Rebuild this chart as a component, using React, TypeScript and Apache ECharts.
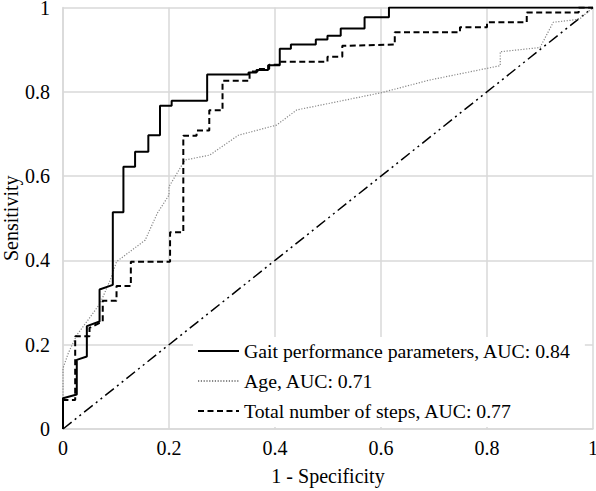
import React, { useEffect, useRef } from "react";
import * as echarts from "echarts";

const FONT = "Liberation Serif";
const FS = 20;

const xTickLabels = ["0", "0.2", "0.4", "0.6", "0.8", "1"];
const yTickLabels = ["0", "0.2", "0.4", "0.6", "0.8", "1"];

const seriesNames = [
  "Gait performance parameters, AUC: 0.84",
  "Age, AUC: 0.71",
  "Total number of steps, AUC: 0.77",
];

// Gait performance parameters (1 - specificity, sensitivity)
const gaitX = [0, 0, 0.026, 0.026, 0.045, 0.045, 0.069, 0.069, 0.094, 0.094, 0.114, 0.114, 0.136, 0.136, 0.161, 0.161, 0.183, 0.183, 0.205, 0.205, 0.272, 0.272, 0.35, 0.35, 0.365, 0.365, 0.387, 0.387, 0.409, 0.409, 0.43, 0.43, 0.477, 0.477, 0.499, 0.499, 0.524, 0.524, 0.569, 0.569, 0.615, 0.615, 1];
const gaitY = [0, 0.073, 0.082, 0.164, 0.172, 0.244, 0.255, 0.331, 0.342, 0.514, 0.514, 0.622, 0.622, 0.658, 0.658, 0.697, 0.697, 0.767, 0.767, 0.779, 0.779, 0.841, 0.841, 0.846, 0.846, 0.852, 0.852, 0.863, 0.863, 0.902, 0.902, 0.912, 0.912, 0.924, 0.924, 0.933, 0.933, 0.95, 0.95, 0.977, 0.977, 1, 1];

// Age
const ageX = [0, 0, 0.01, 0.026, 0.048, 0.07, 0.089, 0.101, 0.155, 0.178, 0.2, 0.2, 0.23, 0.277, 0.331, 0.403, 0.441, 0.504, 0.601, 0.692, 0.825, 0.825, 0.9, 0.925, 0.974, 1];
const ageY = [0, 0.144, 0.18, 0.223, 0.26, 0.298, 0.353, 0.397, 0.448, 0.512, 0.555, 0.575, 0.638, 0.65, 0.697, 0.721, 0.757, 0.773, 0.798, 0.828, 0.862, 0.895, 0.905, 0.965, 0.972, 1];

// Total number of steps
const stepsX = [0, 0, 0.023, 0.023, 0.05, 0.05, 0.075, 0.075, 0.101, 0.101, 0.128, 0.128, 0.202, 0.202, 0.227, 0.227, 0.252, 0.252, 0.276, 0.276, 0.301, 0.301, 0.352, 0.352, 0.367, 0.367, 0.389, 0.389, 0.409, 0.409, 0.499, 0.499, 0.527, 0.527, 0.626, 0.626, 0.749, 0.749, 0.8, 0.8, 0.875, 0.875, 0.973, 0.973, 1];
const stepsY = [0, 0.069, 0.069, 0.22, 0.22, 0.24, 0.255, 0.304, 0.304, 0.339, 0.339, 0.397, 0.397, 0.467, 0.467, 0.696, 0.696, 0.708, 0.708, 0.756, 0.756, 0.826, 0.826, 0.848, 0.848, 0.854, 0.854, 0.864, 0.864, 0.871, 0.871, 0.883, 0.883, 0.909, 0.912, 0.941, 0.941, 0.953, 0.953, 0.965, 0.965, 0.988, 0.988, 1, 1];

// Reference (chance) line
const refX = [0, 1];
const refY = [0, 1];

const zip = (xs: number[], ys: number[]) => xs.map((x, i) => [x, ys[i]]);

export default function App() {
  const ref = useRef<HTMLDivElement>(null);
  useEffect(() => {
    if (!ref.current) return;
    const chart = echarts.init(ref.current, undefined, { renderer: "svg" });
    const gridColor = "#d9d9d9";
    const axisCommon = {
      type: "value" as const,
      min: 0,
      max: 1,
      interval: 0.2,
      axisTick: { show: false },
      axisLine: { show: true, lineStyle: { color: gridColor, width: 1.5 } },
      splitLine: { show: true, lineStyle: { color: gridColor, width: 1.5 } },
      nameTextStyle: { fontFamily: FONT, fontSize: FS, color: "#000" },
    };
    chart.setOption({
      animation: false,
      backgroundColor: "#fff",
      textStyle: { fontFamily: FONT },
      grid: {
        left: 63,
        right: 3,
        top: 7.5,
        bottom: 62,
        containLabel: false,
        outerBoundsMode: "none",
      },
      xAxis: {
        ...axisCommon,
        name: "1 - Specificity",
        nameLocation: "middle",
        nameGap: 37,
        axisLabel: {
          fontFamily: FONT,
          fontSize: FS,
          color: "#000",
          margin: 9,
          formatter: (v: number) => xTickLabels[Math.round(v / 0.2)] ?? "",
        },
      },
      yAxis: {
        ...axisCommon,
        name: "Sensitivity",
        nameLocation: "middle",
        nameGap: 42,
        nameMoveOverlap: false,
        axisLabel: {
          fontFamily: FONT,
          fontSize: FS,
          color: "#000",
          margin: 13,
          formatter: (v: number) => yTickLabels[Math.round(v / 0.2)] ?? "",
        },
      },
      legend: {
        orient: "vertical",
        left: 193,
        top: 337,
        backgroundColor: "#fff",
        padding: [3, 14, 5, 4],
        itemWidth: 41,
        itemHeight: 14,
        itemGap: 8,
        itemStyle: { opacity: 0 },
        data: seriesNames,
        textStyle: { fontFamily: FONT, fontSize: 19.75, color: "#000", lineHeight: 22 },
      },
      series: [
        {
          name: "reference",
          type: "line",
          data: zip(refX, refY),
          symbol: "none",
          silent: true,
          lineStyle: { color: "#000", width: 1.5, type: [11, 4, 2, 4, 2, 4] },
        },
        {
          name: seriesNames[1],
          type: "line",
          data: zip(ageX, ageY),
          symbol: "none",
          color: "#888",
          lineStyle: { color: "#888", width: 1.2, type: [1.2, 1.6] },
        },
        {
          name: seriesNames[2],
          type: "line",
          data: zip(stepsX, stepsY),
          symbol: "none",
          color: "#000",
          lineStyle: { color: "#000", width: 2, type: [6, 3.5] },
        },
        {
          name: seriesNames[0],
          type: "line",
          data: zip(gaitX, gaitY),
          symbol: "none",
          color: "#000",
          lineStyle: { color: "#000", width: 2, type: "solid" },
        },
      ],
    });
    return () => chart.dispose();
  }, []);
  return (
    <div
      ref={ref}
      style={{ position: "fixed", left: 0, top: 0, width: 596, height: 491, background: "#fff" }}
    />
  );
}
